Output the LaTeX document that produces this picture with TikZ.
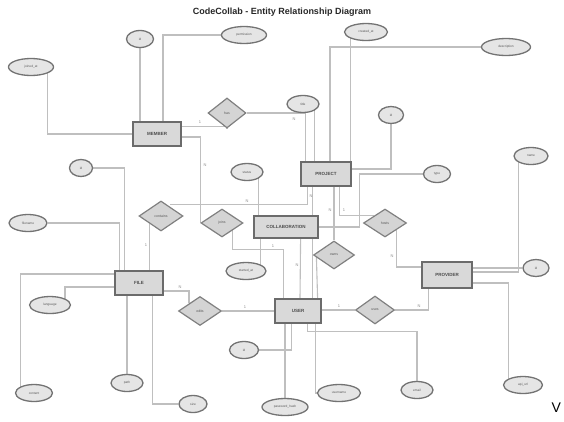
\documentclass[tikz,border=0pt]{standalone}
\usepackage{fontspec}
\setmainfont{Liberation Sans}
\usetikzlibrary{shapes.geometric,calc,backgrounds}

\begin{document}
\begin{tikzpicture}[x=1pt,y=-1pt,
  ent/.style={draw=black!58,fill=black!15,line width=1.2pt,minimum width=48pt,minimum height=24pt,inner sep=0pt,font=\fontsize{4.5}{5}\selectfont\bfseries,text=black!70},
  rel/.style={diamond,draw=black!50,fill=black!17,line width=1.2pt,minimum width=42pt,minimum height=28pt,inner sep=0pt,font=\fontsize{3.5}{4}\selectfont,text=black!65},
  attr/.style={ellipse,draw=black!55,fill=black!10,line width=1.3pt,minimum width=40pt,minimum height=17pt,inner sep=0pt,font=\fontsize{3.2}{4}\selectfont,text=black!65},
  conn/.style={draw=black!25,line width=1.1pt},
  card/.style={font=\fontsize{4}{4}\selectfont,text=black!45,inner sep=0pt}]

  \useasboundingbox (0,0) rectangle (564,421);

  \node[font=\fontsize{9}{10}\selectfont\bfseries,text=black!85] at (282,12) (title) {CodeCollab - Entity Relationship Diagram};

  \node[ent] at (157,134) (member) {MEMBER};
  \node[ent, minimum width=50pt] at (326,174) (project) {PROJECT};
  \node[ent, minimum width=64pt, minimum height=22pt] at (286,227) (collab) {COLLABORATION};
  \node[ent] at (139,283) (file) {FILE};
  \node[ent, minimum width=46pt] at (298,311) (user) {USER};
  \node[ent, minimum width=50pt, minimum height=26pt] at (447,275) (provider) {PROVIDER};

  \node[rel, minimum width=38pt, minimum height=30pt] at (227,113) (has) {has};
  \node[rel, minimum width=44pt, minimum height=30pt] at (161,216) (contains) {contains};
  \node[rel] at (222,223) (joins) {joins};
  \node[rel, minimum width=43pt] at (385,223) (hosts) {hosts};
  \node[rel, minimum width=41pt] at (334,255) (owns) {owns};
  \node[rel, minimum width=43pt, minimum height=29pt] at (200,311) (edits) {edits};
  \node[rel, minimum width=39pt] at (375,310) (uses) {uses};

  \node[attr, minimum width=45pt] at (31,67) (mrole) {joined\_at};
  \node[attr, minimum width=27pt] at (140,39) (mid) {id};
  \node[attr, minimum width=45pt] at (244,35) (mperm) {permission};
  \node[attr, minimum width=43pt] at (366,32) (pcreated) {created\_at};
  \node[attr, minimum width=49pt] at (506,47) (pdesc) {description};
  \node[attr, minimum width=32pt] at (303,104) (ptitle) {title};
  \node[attr, minimum width=25pt] at (391,115) (pid) {id};
  \node[attr, minimum width=27pt] at (437,174) (ctype) {type};
  \node[attr, minimum width=32pt] at (247,172) (cstatus) {status};
  \node[attr, minimum width=40pt] at (246,271) (cstart) {started\_at};
  \node[attr, minimum width=34pt] at (531,156) (pvname) {name};
  \node[attr, minimum width=26pt] at (536,268) (pvid) {id};
  \node[attr, minimum width=39pt] at (523,385) (pvurl) {api\_url};
  \node[attr, minimum width=23pt] at (81,168) (fid) {id};
  \node[attr, minimum width=38pt] at (28,223) (fname) {filename};
  \node[attr, minimum width=41pt] at (50,305) (flang) {language};
  \node[attr, minimum width=37pt] at (34,393) (fcontent) {content};
  \node[attr, minimum width=32pt] at (127,383) (fpath) {path};
  \node[attr, minimum width=28pt] at (193,404) (fsize) {size};
  \node[attr, minimum width=29pt] at (244,350) (uid) {id};
  \node[attr, minimum width=46pt] at (285,407) (upass) {password\_hash};
  \node[attr, minimum width=43pt] at (339,393) (uname) {username};
  \node[attr, minimum width=32pt] at (417,390) (uemail) {email};

  \begin{scope}[on background layer]
    \draw[conn] (mid.south) -- (mid.south |- member.north);
    \draw[conn] (mperm.west) -| ($(member.north)+(6,0)$);
    \draw[conn] (mrole.south east) |- (member.west);
    \draw[conn] ($(member.north east)+(0,5)$) -| (has.south);
    \draw[conn] (has.east) -| ($(project.north west)+(5,0)$);
    \draw[conn] ($(member.east)+(0,3)$) -| (joins.west);

    \draw[conn] (pcreated.south west) -- (pcreated.south west |- project.north);
    \draw[conn] (pdesc.west) -| ($(project.north)+(4,0)$);
    \draw[conn] (ptitle.south east) -- (ptitle.south east |- project.north);
    \draw[conn] (pid.south) |- ($(project.east)+(0,-5)$);
    \draw[conn] (ctype.west) -- ++(-63,0) |- (collab.east);
    \draw[conn] ($(project.south west)+(7,0)$) |- ($(contains.north)+(9,4)$);
    \draw[conn] (project.south -| owns.north) -- (owns.north);
    \draw[conn] ($(project.south east)+(-12,0)$) |- (hosts.north west);
    \draw[conn] (hosts.south east) |- ($(provider.west)+(0,-8)$);
    \draw[conn] ($(project.south west)+(12,0)$) -- ($(user.north west)+(38,0)$);

    \draw[conn] (pvname.south west) |- ($(provider.east)+(0,-3)$);
    \draw[conn] (pvid.west) -- (pvid.west -| provider.east);
    \draw[conn] (pvurl.north west) |- ($(provider.east)+(0,8)$);
    \draw[conn] (uses.east) -| ($(provider.south west)+(7,0)$);
    \draw[conn] (user.east |- uses.west) -- (uses.west);

    \draw[conn] (contains.south west) -- (contains.south west |- file.north);
    \draw[conn] (fid.east) -| ($(file.north west)+(10,0)$);
    \draw[conn] (fname.east) -| ($(file.north west)+(5,0)$);
    \draw[conn] (flang.north east) |- ($(file.west)+(0,4)$);
    \draw[conn] (fcontent.north west) |- ($(file.west)+(0,-9)$);
    \draw[conn] (fpath.north) -- (fpath.north |- file.south);
    \draw[conn] (fsize.west) -| ($(file.south east)+(-11,0)$);
    \draw[conn] ($(file.east)+(0,8)$) -| (edits.north west);
    \draw[conn] (edits.east) -- (edits.east -| user.west);

    \draw[conn] (cstatus.south east) -- (cstatus.south east |- collab.north);
    \draw[conn] (cstart.north east) -- (cstart.north east |- collab.south);
    \draw[conn] ($(collab.south east)+(-18,0)$) -- ($(user.north)+(2,0)$);

    \draw[conn] (joins.south east) |- ($(user.north west)+(9,-49)$) -- ($(user.north west)+(9,0)$);
    \draw[conn] ($(owns.west)+(3.5,2)$) -- ($(user.north east)+(-4,0)$);
    \draw[conn] (uid.east) -| ($(user.south west)+(17,0)$);
    \draw[conn] (upass.north) -- (upass.north |- user.south);
    \draw[conn] ($(user.south east)+(-6,0)$) |- (uname.west);
    \draw[conn] (uemail.north) -- ++(0,-49) -| ($(user.south east)+(-14,0)$);
  \end{scope}

  \node[card] at (200,122) (k1) {1};
  \node[card] at (294,119) (k2) {N};
  \node[card] at (205,165) (k3) {N};
  \node[card] at (311,196) (k4) {N};
  \node[card] at (247,201) (k5) {N};
  \node[card] at (330,210) (k6) {N};
  \node[card] at (344,210) (k7) {1};
  \node[card] at (392,256) (k8) {N};
  \node[card] at (146,245) (k9) {1};
  \node[card] at (180,287) (k10) {N};
  \node[card] at (245,307) (k11) {1};
  \node[card] at (339,306) (k12) {1};
  \node[card] at (419,306) (k13) {N};
  \node[card] at (273,246) (k14) {1};
  \node[card] at (297,265) (k15) {N};

  \node[font=\fontsize{14}{14}\selectfont, anchor=west] at (548,408) (v) {V};

\end{tikzpicture}
\end{document}
